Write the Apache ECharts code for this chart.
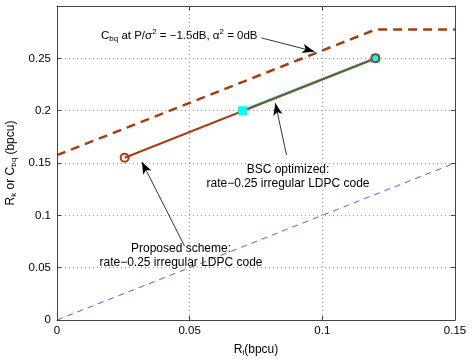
<!DOCTYPE html>
<html>
<head>
<meta charset="utf-8">
<script src="https://cdn.jsdelivr.net/npm/echarts@6/dist/echarts.min.js"></script>
<style>
  html, body { margin: 0; padding: 0; background: #fff; }
  #chart { width: 474px; height: 361px; }
</style>
</head>
<body>
<div id="chart"></div>
<script>
// 数据
var cbqPoints = [[0, 0.1575], [0.12, 0.2775], [0.15, 0.2775]];
var proposedPoints = [[0.0255, 0.155], [0.12, 0.25]];
var bscPoints = [[0.07, 0.2], [0.12, 0.25]];
var diagPoints = [[0, 0], [0.15, 0.15]];
var xTicks = [0, 0.05, 0.1, 0.15];
var yTicks = [0, 0.05, 0.1, 0.15, 0.2, 0.25];
// 注释箭头 [起点, 终点]
var arrows = [
  [[0.0771, 0.2695], [0.097, 0.2565]],
  [[0.0865, 0.1577], [0.0823, 0.2071]],
  [[0.0481, 0.0705], [0.032, 0.151]]
];

var FONT = "Liberation Sans";
var brown = "#a83c0f";

function tickLabel(list) {
  return function (v) {
    for (var i = 0; i < list.length; i++) {
      if (Math.abs(list[i] - v) < 1e-9) return String(list[i]);
    }
    return "";
  };
}

var subStyle = { fontSize: 8, fontFamily: FONT, color: "#000", padding: [7, 0, 0, 0] };
var supStyle = { fontSize: 8, fontFamily: FONT, color: "#000", padding: [0, 0, 7, 0] };
var normStyle = { fontSize: 11.5, fontFamily: FONT, color: "#000" };
var nameStyle = { fontSize: 12, fontFamily: FONT, color: "#000" };

// 上/右边框轴
var boxAxis = {
  show: true,
  axisLine: { show: true, onZero: false, lineStyle: { color: "#444", width: 1 } },
  axisTick: { show: true, inside: true, length: 4, lineStyle: { color: "#444" } },
  axisLabel: { show: false },
  splitLine: { show: false }
};

var myChart = echarts.init(document.getElementById("chart"));
myChart.setOption({
  animation: false,
  backgroundColor: "#fff",
  grid: { left: 57, right: 19, top: 6, bottom: 41, containLabel: false, outerBoundsMode: "none" },
  xAxis: [
    {
      type: "value", min: 0, max: 0.15, interval: 0.05, position: "bottom",
      name: "{n|R}{s|l}{n|(bpcu)}",
      nameLocation: "middle", nameGap: 22,
      nameTextStyle: { rich: { n: nameStyle, s: subStyle } },
      axisLine: { onZero: false, lineStyle: { color: "#444", width: 1 } },
      axisTick: { inside: true, length: 4, lineStyle: { color: "#444" } },
      axisLabel: { color: "#000", fontSize: 11.5, fontFamily: FONT, margin: 5, formatter: tickLabel(xTicks) },
      splitLine: { show: true, lineStyle: { color: "#999", type: [1, 3], width: 1 } }
    },
    Object.assign({ type: "value", min: 0, max: 0.15, interval: 0.05, position: "top" }, boxAxis)
  ],
  yAxis: [
    {
      type: "value", min: 0, max: 0.3, interval: 0.05, position: "left",
      name: "{n|R}{s|k}{n| or C}{s|bq}{n| (bpcu)}",
      nameLocation: "middle", nameGap: 33, nameRotate: 90,
      nameTextStyle: { rich: { n: nameStyle, s: subStyle } },
      axisLine: { show: true, onZero: false, lineStyle: { color: "#444", width: 1 } },
      axisTick: { show: true, inside: true, length: 4, lineStyle: { color: "#444" } },
      axisLabel: { color: "#000", fontSize: 11.5, fontFamily: FONT, margin: 6, formatter: tickLabel(yTicks) },
      splitLine: { show: true, lineStyle: { color: "#999", type: [1, 3], width: 1 } }
    },
    Object.assign({ type: "value", min: 0, max: 0.3, interval: 0.05, position: "right" }, boxAxis)
  ],
  series: [
    {
      name: "diag", type: "line", data: diagPoints, showSymbol: false,
      lineStyle: { color: "#2b2bff", width: 0.8, type: [6, 5] }
    },
    {
      name: "Cbq", type: "line", data: cbqPoints, showSymbol: false,
      lineStyle: { color: brown, width: 2.5, type: [9, 6] }
    },
    {
      name: "BSC", type: "line", data: bscPoints,
      symbol: "rect", symbolSize: 9,
      itemStyle: { color: "#00ffff", borderWidth: 0 },
      lineStyle: { color: "#00ffff", width: 3 }
    },
    {
      name: "Proposed", type: "line", data: proposedPoints,
      symbol: "circle", symbolSize: 8,
      itemStyle: { color: "rgba(0,0,0,0)", borderColor: brown, borderWidth: 2 },
      lineStyle: { color: brown, width: 2 }
    },
    {
      name: "arrows", type: "line", data: [], silent: true,
      markLine: {
        silent: true, animation: false,
        symbol: ["none", "arrow"], symbolSize: [7, 12],
        label: { show: false },
        lineStyle: { color: "#000", width: 0.8, type: "solid" },
        data: arrows.map(function (a) {
          return [{ coord: a[0] }, { coord: a[1] }];
        })
      }
    }
  ],
  graphic: [
    {
      type: "text", left: 101, top: 28,
      style: {
        text: "{n|C}{s|bq}{n| at P/σ}{p|2}{n| = −1.5dB, α}{p|2}{n| = 0dB}",
        rich: { n: normStyle, s: subStyle, p: supStyle }
      }
    },
    {
      type: "text", x: 288, y: 177,
      style: {
        text: "BSC optimized:\nrate−0.25 irregular LDPC code",
        fontSize: 12, fontFamily: FONT, fill: "#000", align: "center",
        verticalAlign: "middle", lineHeight: 14
      }
    },
    {
      type: "text", x: 181, y: 256,
      style: {
        text: "Proposed scheme:\nrate−0.25 irregular LDPC code",
        fontSize: 12, fontFamily: FONT, fill: "#000", align: "center",
        verticalAlign: "middle", lineHeight: 14
      }
    }
  ]
});
</script>
</body>
</html>
